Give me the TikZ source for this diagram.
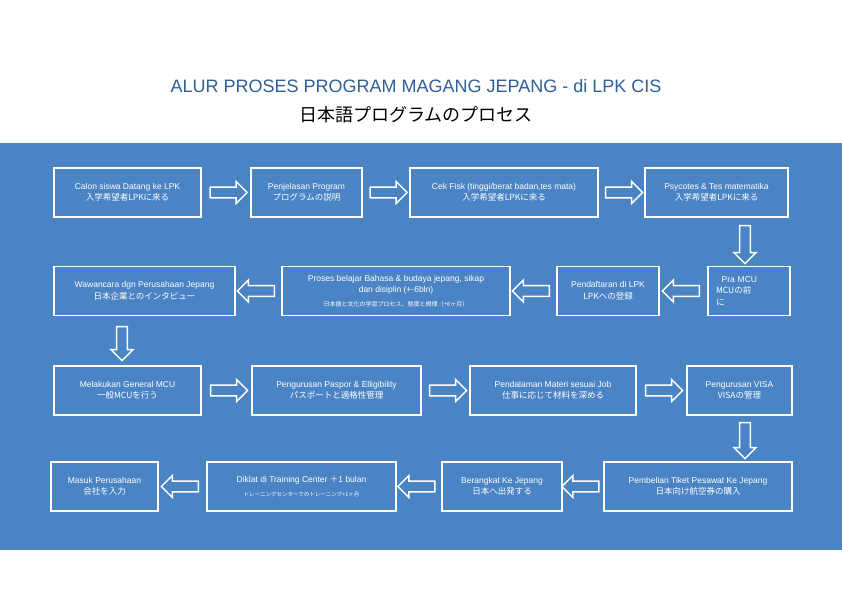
\documentclass[tikz,border=0pt]{standalone}
\usepackage{fontspec}
\setmainfont{Liberation Sans}
\newfontfamily\jp{Noto Sans CJK JP}
\usetikzlibrary{shapes.arrows,calc}
\definecolor{bg}{HTML}{4A84C4}
\definecolor{ttl}{HTML}{2F5F98}
\begin{document}
\begin{tikzpicture}[x=1pt,y=-1pt,
 box/.style={draw=white,line width=1.6pt,text=white,align=center,font=\fontsize{8.5}{11.5}\selectfont,inner sep=2pt,minimum height=49pt},
 arr/.style={single arrow,draw=white,line width=1.5pt,fill=bg,minimum height=37pt,minimum width=22pt,single arrow head extend=4pt,inner sep=3pt,shape border rotate=#1},
 arr/.default=0]
\useasboundingbox (0,0) rectangle (842,596);
\fill[white] (0,0) rectangle (842,596);
\fill[bg] (0,143) rectangle (842,550);
\node[text=ttl,font=\fontsize{18}{21}\selectfont] (t1) at (416,86) {ALUR PROSES PROGRAM MAGANG JEPANG - di LPK CIS};
\node[text=black,font=\fontsize{18}{21}\selectfont\jp] (t2) at (416,115) {日本語プログラムのプロセス};
% row1
\node[box,minimum width=147pt] (b1) at (127.5,192.5) {Calon siswa Datang ke LPK\\{\jp 入学希望者LPKに来る}};
\node[box,minimum width=111pt] (b2) at (306.5,192.5) {Penjelasan Program\\{\jp プログラムの説明}};
\node[box,minimum width=188pt] (b3) at (504,192.5) {Cek Fisk (tinggi/berat badan,tes mata)\\{\jp 入学希望者LPKに来る}};
\node[box,minimum width=143pt] (b4) at (716.5,192.5) {Psycotes \& Tes matematika\\{\jp 入学希望者LPKに来る}};
% row2
\node[box,minimum width=181pt] (b5) at (144.5,291) {Wawancara dgn Perusahaan Jepang\\{\jp 日本企業とのインタビュー}};
\node[box,minimum width=228pt] (b6) at (396,291) {Proses belajar Bahasa \& budaya jepang, sikap\\dan disiplin (+-6bln)\\[2pt]{\jp\fontsize{6}{7}\selectfont 日本語と文化の学習プロセス、態度と規律（+6ヶ月）}};
\node[box,minimum width=102pt] (b7) at (608,291) {Pendaftaran di LPK\\{\jp LPKへの登録}};
\node[box,minimum width=82pt,text width=66pt,align=left] (b8) at (749,291) {\ \ Pra MCU\\{\jp MCUの前}\\{\jp に}};
% row3
\node[box,minimum width=147pt] (b9) at (127.5,390.5) {Melakukan General MCU\\{\jp 一般MCUを行う}};
\node[box,minimum width=169pt] (b10) at (336.5,390.5) {Pengurusan Paspor \& Elligibility\\{\jp パスポートと適格性管理}};
\node[box,minimum width=166pt] (b11) at (553,390.5) {Pendalaman Materi sesuai Job\\{\jp 仕事に応じて材料を深める}};
\node[box,minimum width=105pt] (b12) at (739.5,390.5) {Pengurusan VISA\\{\jp VISAの管理}};
% row4
\node[box,minimum width=107pt] (b13) at (104.5,486.5) {Masuk Perusahaan\\{\jp 会社を入力}};
\node[box,minimum width=189pt] (b14) at (301.5,486.5) {Diklat di Training Center {\jp ＋}1 bulan\\[2pt]{\jp\fontsize{5.5}{7}\selectfont トレーニングセンターでのトレーニング+1ヶ月}};
\node[box,minimum width=120pt] (b15) at (502,486.5) {Berangkat Ke Jepang\\{\jp 日本へ出発する}};
\node[box,minimum width=188pt] (b16) at (698,486.5) {Pembelian Tiket Pesawat Ke Jepang\\{\jp 日本向け航空券の購入}};
% arrows
\node[arr] (a1) at ($(b1.east)!0.5!(b2.west)$) {};
\node[arr] (a2) at ($(b2.east)!0.5!(b3.west)$) {};
\node[arr] (a3) at ($(b3.east)!0.5!(b4.west)$) {};
\node[arr=270,minimum height=38pt] (a4) at (745,242) {};
\node[arr=180] (a5) at ($(b8.west)!0.5!(b7.east)$) {};
\node[arr=180] (a6) at ($(b7.west)!0.5!(b6.east)$) {};
\node[arr=180] (a7) at ($(b6.west)!0.5!(b5.east)$) {};
\node[arr=270,minimum height=34pt] (a8) at (122,341) {};
\node[arr] (a9) at ($(b9.east)!0.5!(b10.west)$) {};
\node[arr] (a10) at ($(b10.east)!0.5!(b11.west)$) {};
\node[arr] (a11) at ($(b11.east)!0.5!(b12.west)$) {};
\node[arr=270,minimum height=36pt] (a12) at (745,438) {};
\node[arr=180] (a13) at ($(b16.west)!0.5!(b15.east)$) {};
\node[arr=180] (a14) at ($(b15.west)!0.5!(b14.east)$) {};
\node[arr=180] (a15) at ($(b14.west)!0.5!(b13.east)$) {};
\end{tikzpicture}
\end{document}
